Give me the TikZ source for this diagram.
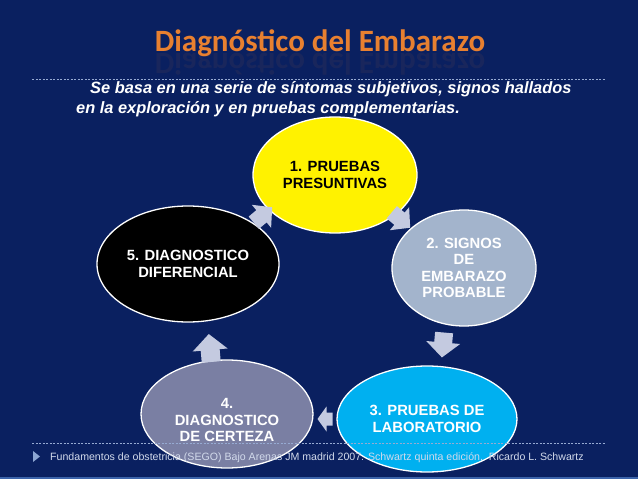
\documentclass[tikz,border=0pt]{standalone}
\usepackage{fontspec}
\setmainfont{Liberation Sans}
\newfontfamily\titlefont{Carlito}
\usetikzlibrary{shapes.geometric}
\definecolor{bg}{RGB}{10,32,96}
\definecolor{strip}{RGB}{60,100,170}
\definecolor{titleorange}{RGB}{232,128,48}
\definecolor{dashcol}{RGB}{150,170,210}
\definecolor{steel}{RGB}{163,180,204}
\definecolor{cyanb}{RGB}{0,176,240}
\definecolor{grayp}{RGB}{122,127,163}
\definecolor{arrowc}{RGB}{196,202,224}
\definecolor{footc}{RGB}{210,218,235}
\definecolor{bulletc}{RGB}{140,165,210}
\tikzset{
  bubble/.style={ellipse, draw=white, line width=1.3pt, inner sep=0pt, align=center,
    font=\bfseries\fontsize{14.8}{16.5}\selectfont},
  bubbletext/.style={inner sep=0pt, align=center, font=\bfseries\fontsize{14.8}{16.5}\selectfont},
  dashline/.style={draw=dashcol, line width=0.6pt, dash pattern=on 2pt off 1.5pt},
  blockarrowfill/.style={fill=arrowc, draw=none}
}
\newcommand\blkarrow[6]{% coord, angle, L, sw, hw, hl
  \fill[blockarrowfill, shift={(#1)}, rotate=#2]
    ({-#3/2},{-#4/2}) -- ({#3/2-#6},{-#4/2}) -- ({#3/2-#6},{-#5/2}) -- ({#3/2},0)
    -- ({#3/2-#6},{#5/2}) -- ({#3/2-#6},{#4/2}) -- ({-#3/2},{#4/2}) -- cycle;}
\begin{document}
\begin{tikzpicture}[x=1pt,y=-1pt]
\useasboundingbox (0,0) rectangle (638,479);
\fill[bg] (0,0) rectangle (638,479);
\fill[strip] (0,476.5) rectangle (638,479);
% title
\node[font=\titlefont\bfseries\fontsize{31}{31}\selectfont, text=titleorange, anchor=base, inner sep=0pt] (title) at (320,51) {Diagnóstico del Embarazo};
\node[font=\titlefont\bfseries\fontsize{31}{31}\selectfont, text=titleorange, anchor=base, inner sep=0pt, yscale=-1, transform shape, opacity=0.07] (titlerefl) at (320,53) {Diagnóstico del Embarazo};
% top dashed line
\draw[dashline] (32,79) -- (606,79);
% subtitle
\node[font=\bfseries\itshape\fontsize{16.4}{16.4}\selectfont, text=white, anchor=base west, inner sep=0pt] (sub1) at (90,93) {Se basa en una serie de síntomas subjetivos, signos hallados};
\node[font=\bfseries\itshape\fontsize{16.4}{16.4}\selectfont, text=white, anchor=base west, inner sep=0pt] (sub2) at (76,113) {en la exploración y en pruebas complementarias.};
% ellipses
\node[bubble, fill=yellow, text=black, minimum width=164pt, minimum height=116pt] (e1) at (335,175) {1. PRUEBAS\\PRESUNTIVAS};
\node[bubble, fill=steel, text=white, minimum width=144pt, minimum height=116pt] (e2) at (464,268) {2. SIGNOS\\DE\\EMBARAZO\\PROBABLE};
\node[bubble, fill=cyanb, text=white, minimum width=180pt, minimum height=106pt] (e3) at (427,419) {3. PRUEBAS DE\\LABORATORIO};
\node[bubble, fill=grayp, minimum width=172pt, minimum height=108pt] (e4) at (227,414) {};
\node[bubbletext, text=white] (t4) at (227,420) {4.\\DIAGNOSTICO\\DE CERTEZA};
\node[bubble, fill=black, text=white, minimum width=182pt, minimum height=116pt] (e5) at (188,264) {5. DIAGNOSTICO\\DIFERENCIAL};
% arrows
\coordinate (a51) at (263,215);
\coordinate (a12) at (401,220);
\coordinate (a23) at (443,345);
\coordinate (a34) at (325,419);
\coordinate (a45) at (210,348);
\blkarrow{a51}{40}{24}{16}{30}{14}
\blkarrow{a12}{-40}{24}{16}{30}{14}
\blkarrow{a23}{-95}{25}{18}{34}{15}
\blkarrow{a34}{180}{15}{13}{25}{9}
\blkarrow{a45}{95}{28}{19}{35}{16}
% bottom dashed line and footer
\draw[dashline] (32,443) -- (606,443);
\fill[bulletc] (33,451) -- (40,456.5) -- (33,462) -- cycle;
\node[font=\fontsize{10.6}{10.6}\selectfont, text=footc, anchor=base west, inner sep=0pt] (foot) at (50,460) {Fundamentos de obstetricia (SEGO) Bajo Arenas JM madrid 2007. Schwartz quinta edición,\ \ Ricardo L. Schwartz};
\end{tikzpicture}
\end{document}
